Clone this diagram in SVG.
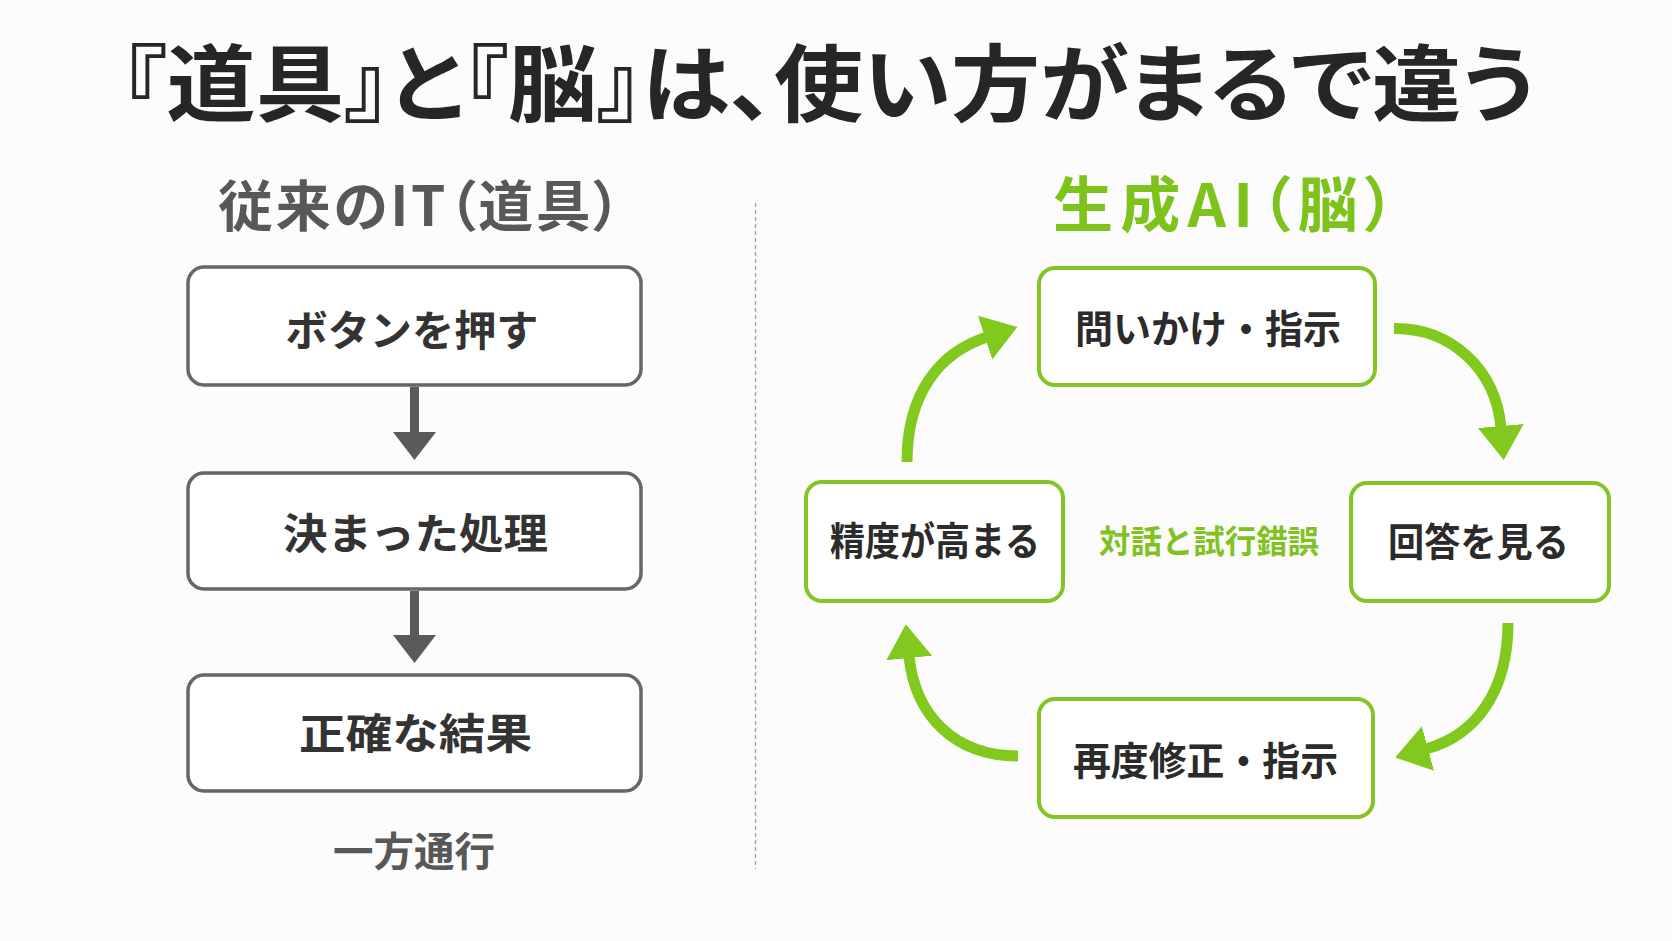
<svg xmlns="http://www.w3.org/2000/svg" width="1672" height="941" viewBox="0 0 1672 941">
  <style>
    .jp { font-family: "Noto Sans CJK JP", "Noto Sans", sans-serif; font-weight: 700; }
    .title { font-size: 84px; fill: #262626; font-feature-settings: "palt"; }
    .hdL { font-size: 55px; fill: #585858; font-feature-settings: "palt"; }
    .hdR { font-size: 60px; fill: #7DC31C; font-feature-settings: "palt"; }
    .gbox { fill: #ffffff; stroke: #666666; stroke-width: 3.5; }
    .vbox { fill: #ffffff; stroke: #84C425; stroke-width: 4; }
    .t { font-size: 42px; fill: #333333; text-anchor: middle; }
    .tr { font-size: 39px; fill: #2b2b2b; text-anchor: middle; }
    .note { font-size: 40px; fill: #585858; text-anchor: middle; }
    .mid { font-size: 32px; fill: #80C21F; text-anchor: middle; }
    .garr { stroke: #5a5a5a; stroke-width: 9; fill: none; }
    .varr { stroke: #82C91E; stroke-width: 11; fill: none; }
  </style>
  <defs>
    <marker id="hg" viewBox="0 -22 30 44" refX="1" refY="0" markerWidth="30" markerHeight="44" markerUnits="userSpaceOnUse" orient="auto">
      <path d="M0,-21.5 L28,0 L0,21.5 Z" fill="#5a5a5a"/>
    </marker>
    <marker id="hv" viewBox="0 -24 36 48" refX="2" refY="0" markerWidth="36" markerHeight="48" markerUnits="userSpaceOnUse" orient="auto">
      <path d="M0,-23 L34,0 L0,23 Z" fill="#82C91E"/>
    </marker>
  </defs>

  <rect x="0" y="0" width="1672" height="941" fill="#fcfcfc"/>

  <text class="jp title" x="122" y="115" textLength="1413" lengthAdjust="spacingAndGlyphs">『道具』と『脳』は、使い方がまるで違う</text>

  <text class="jp hdL" x="218" y="226" textLength="403" lengthAdjust="spacing">従来のIT（道具）</text>
  <text class="jp hdR" x="1053" y="227" textLength="342" lengthAdjust="spacing">生成AI（脳）</text>

  <line x1="755.5" y1="203" x2="755.5" y2="869" stroke="#a0a0a0" stroke-width="1.3" stroke-dasharray="4 3"/>

  <g id="connectors">
    <line class="garr" x1="414.5" y1="387" x2="414.5" y2="433" marker-end="url(#hg)"/>
    <line class="garr" x1="414.5" y1="591" x2="414.5" y2="636" marker-end="url(#hg)"/>
    <path class="varr" d="M907,462 C907,395 938,353 987,337" marker-end="url(#hv)"/>
    <path class="varr" d="M1394,328.5 C1452,328 1496,370 1501,428" marker-end="url(#hv)"/>
    <path class="varr" d="M1508,623 C1508,690 1477,735 1426,749" marker-end="url(#hv)"/>
    <path class="varr" d="M1018,756 C955,756 915,716 909,656" marker-end="url(#hv)"/>
  </g>

  <g id="node-button">
    <rect class="gbox" x="188" y="267" width="453" height="118" rx="16"/>
    <text class="jp t" x="412" y="346" textLength="253" lengthAdjust="spacingAndGlyphs">ボタンを押す</text>
  </g>
  <g id="node-process">
    <rect class="gbox" x="188" y="473" width="453" height="116" rx="16"/>
    <text class="jp t" x="415.5" y="549" textLength="265" lengthAdjust="spacingAndGlyphs">決まった処理</text>
  </g>
  <g id="node-result">
    <rect class="gbox" x="188" y="675" width="453" height="116" rx="16"/>
    <text class="jp t" x="415.5" y="749" textLength="233" lengthAdjust="spacingAndGlyphs">正確な結果</text>
  </g>
  <g id="label-oneway">
    <text class="jp note" x="414" y="866" textLength="162" lengthAdjust="spacingAndGlyphs">一方通行</text>
  </g>

  <g id="node-ask">
    <rect class="vbox" x="1039" y="268" width="336" height="117" rx="16"/>
    <text class="jp tr" x="1208" y="343" textLength="266" lengthAdjust="spacingAndGlyphs">問いかけ・指示</text>
  </g>
  <g id="node-answer">
    <rect class="vbox" x="1351" y="483" width="258" height="118" rx="16"/>
    <text class="jp tr" x="1478.5" y="556" textLength="181" lengthAdjust="spacingAndGlyphs">回答を見る</text>
  </g>
  <g id="node-revise">
    <rect class="vbox" x="1039" y="699" width="334" height="118" rx="16"/>
    <text class="jp tr" x="1205.5" y="775" textLength="265" lengthAdjust="spacingAndGlyphs">再度修正・指示</text>
  </g>
  <g id="node-precision">
    <rect class="vbox" x="806" y="482" width="257" height="119" rx="16"/>
    <text class="jp tr" x="935" y="555" textLength="210" lengthAdjust="spacingAndGlyphs">精度が高まる</text>
  </g>
  <g id="label-center">
    <text class="jp mid" x="1209" y="553" textLength="220" lengthAdjust="spacingAndGlyphs">対話と試行錯誤</text>
  </g>
</svg>
